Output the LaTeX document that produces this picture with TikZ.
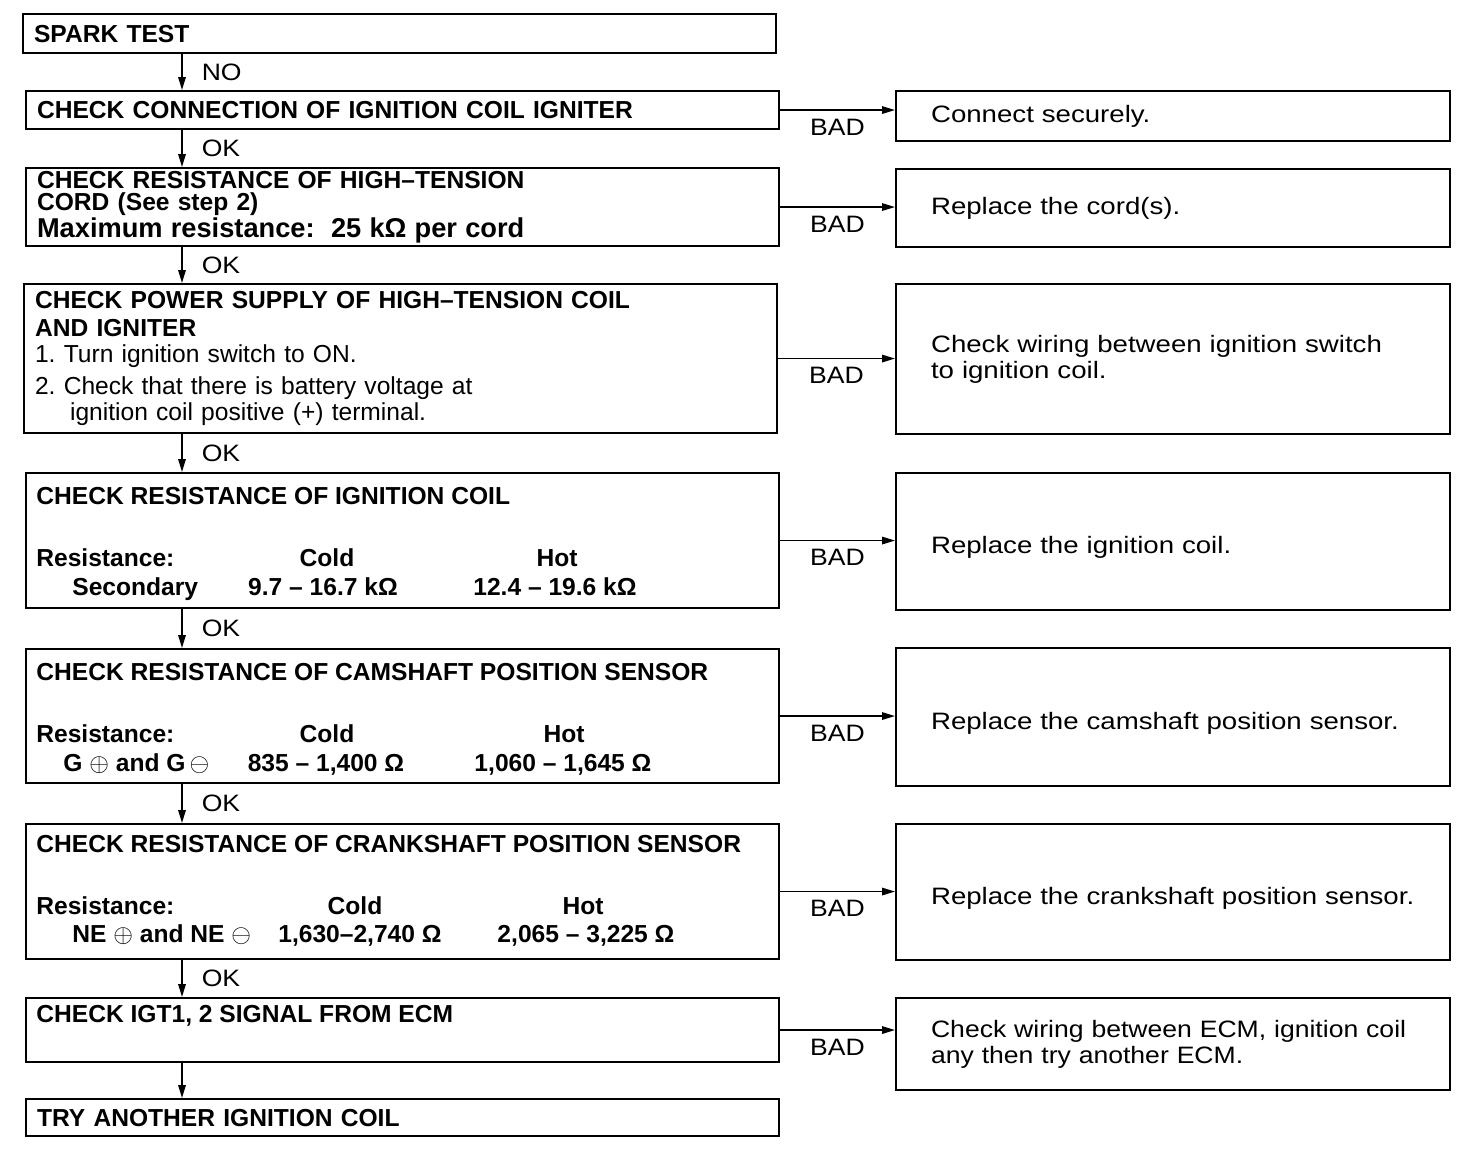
\documentclass[tikz,border=0pt]{standalone}
\usepackage{fontspec}
\setmainfont{Liberation Sans}
\newfontfamily\widefont[FakeStretch=1.12]{Liberation Sans}
\newfontfamily\fixfont[FakeStretch=1.165]{Liberation Sans}
\frenchspacing
\newcommand{\bigsym}[1]{{\fontsize{15.5}{15}\selectfont$#1$}}
\usetikzlibrary{arrows.meta,positioning}

\begin{document}
\begin{tikzpicture}[x=0.02cm,y=-0.02cm]
\tikzset{
  stepbox/.style={draw,line width=1.2pt,anchor=north west,inner xsep=0.22cm,inner ysep=0pt,
    text width=14.62cm,align=left,font=\fontsize{14}{15}\selectfont\bfseries},
  fixbox/.style={draw,line width=1.2pt,anchor=north west,inner xsep=0.7cm,inner ysep=0pt,
    text width=9.68cm,align=left,font=\fontsize{13.5}{15}\selectfont\fixfont},
  lowtext/.style={text height=0.59cm},
  flow/.style={-{Triangle[length=2.6mm,width=1.5mm]},line width=0.9pt},
  lbl/.style={font=\fontsize{13.5}{15}\selectfont\widefont,inner sep=0pt},
  rowtxt/.style={font=\fontsize{14}{15}\selectfont\bfseries,inner sep=0pt,anchor=base west},
  coltxt/.style={rowtxt,anchor=base}
}
\useasboundingbox (0,0) rectangle (1472,1150);

% left column
\node[stepbox,minimum height=0.78cm] (b1) at (22,13) {SPARK TEST};
\node[stepbox,minimum height=0.76cm] (b2) at (25,90) {CHECK CONNECTION OF IGNITION COIL IGNITER};
\node[stepbox,minimum height=1.56cm,font=\fontsize{14}{13}\selectfont\bfseries] (b3) at (25,167)
  {CHECK RESISTANCE OF HIGH--TENSION\\CORD (See step 2)\\{\fontsize{15.5}{15}\selectfont Maximum resistance:\ \ 25 kΩ per cord}};
\node[stepbox,minimum height=2.98cm] (b4) at (23,283)
  {CHECK POWER SUPPLY OF HIGH--TENSION COIL\\[1pt]AND IGNITER\\
   {\mdseries\fontsize{14}{15}\selectfont 1. Turn ignition switch to ON.\\[3pt]
   2. Check that there is battery voltage at\\
   \hspace*{0.7cm}ignition coil positive (+) terminal.}};
\node[stepbox,minimum height=2.70cm] (b5) at (25,472) {};
\node[stepbox,minimum height=2.68cm] (b6) at (25,648) {};
\node[stepbox,minimum height=2.70cm] (b7) at (25,823) {};
\node[stepbox,minimum height=1.28cm] (b8) at (25,997) {};
\node[stepbox,minimum height=0.74cm] (b9) at (25,1098) {TRY ANOTHER IGNITION COIL};

% box texts
\node[rowtxt] (t5) at (36,504) {CHECK RESISTANCE OF IGNITION COIL};
\node[rowtxt] (t5r) at (36,566) {Resistance:};
\node[coltxt] (t5c) at (327,566) {Cold};
\node[coltxt] (t5h) at (557,566) {Hot};
\node[rowtxt] (t5s) at (72,595) {Secondary};
\node[coltxt] (t5v1) at (323,595) {9.7 -- 16.7 kΩ};
\node[coltxt] (t5v2) at (555,595) {12.4 -- 19.6 kΩ};

\node[rowtxt] (t6) at (36,680) {CHECK RESISTANCE OF CAMSHAFT POSITION SENSOR};
\node[rowtxt] (t6r) at (36,742) {Resistance:};
\node[coltxt] (t6c) at (327,742) {Cold};
\node[coltxt] (t6h) at (564,742) {Hot};
\node[rowtxt] (t6s) at (63,771) {G \bigsym{\oplus} and G\,\bigsym{\ominus}};
\node[coltxt] (t6v1) at (326,771) {835 -- 1,400 Ω};
\node[coltxt] (t6v2) at (563,771) {1,060 -- 1,645 Ω};

\node[rowtxt] (t7) at (36,852) {CHECK RESISTANCE OF CRANKSHAFT POSITION SENSOR};
\node[rowtxt] (t7r) at (36,914) {Resistance:};
\node[coltxt] (t7c) at (355,914) {Cold};
\node[coltxt] (t7h) at (583,914) {Hot};
\node[rowtxt] (t7s) at (72,942) {NE \bigsym{\oplus} and NE \bigsym{\ominus}};
\node[coltxt] (t7v1) at (360,942) {1,630--2,740 Ω};
\node[coltxt] (t7v2) at (586,942) {2,065 -- 3,225 Ω};

\node[rowtxt] (t8) at (36,1022) {CHECK IGT1, 2 SIGNAL FROM ECM};

% right column
\node[fixbox,minimum height=1.00cm] (r1) at (895,90) {Connect securely.};
\node[fixbox,minimum height=1.56cm] (r2) at (895,168) {Replace the cord(s).};
\node[fixbox,minimum height=3.00cm] (r3) at (895,283) {Check wiring between ignition switch\\to ignition coil.};
\node[fixbox,lowtext,minimum height=2.74cm] (r4) at (895,472) {Replace the ignition coil.};
\node[fixbox,lowtext,minimum height=2.76cm] (r5) at (895,647) {Replace the camshaft position sensor.};
\node[fixbox,lowtext,minimum height=2.72cm] (r6) at (895,823) {Replace the crankshaft position sensor.};
\node[fixbox,minimum height=1.84cm,font=\fontsize{13.5}{15}\selectfont\widefont] (r7) at (895,997)
  {Check wiring between ECM, ignition coil\\any then try another ECM.};

% down arrows
\coordinate (axis) at (182,0);
\draw[flow] (b1.south -| axis) -- node[lbl,right=0.38cm] (l1) {NO} (b2.north -| axis);
\draw[flow] (b2.south -| axis) -- node[lbl,right=0.38cm] (l2) {OK} (b3.north -| axis);
\draw[flow] (b3.south -| axis) -- node[lbl,right=0.38cm] (l3) {OK} (b4.north -| axis);
\draw[flow] (b4.south -| axis) -- node[lbl,right=0.38cm] (l4) {OK} (b5.north -| axis);
\draw[flow] (b5.south -| axis) -- node[lbl,right=0.38cm] (l5) {OK} (b6.north -| axis);
\draw[flow] (b6.south -| axis) -- node[lbl,right=0.38cm] (l6) {OK} (b7.north -| axis);
\draw[flow] (b7.south -| axis) -- node[lbl,right=0.38cm] (l7) {OK} (b8.north -| axis);
\draw[flow] (b8.south -| axis) -- (b9.north -| axis);

% BAD arrows
\draw[flow] (b2.east) -- node[lbl,below=0.16cm] (x2) {BAD} (b2.east -| r1.west);
\draw[flow] (b3.east) -- node[lbl,below=0.16cm] (x3) {BAD} (b3.east -| r2.west);
\draw[flow] (b4.east) -- node[lbl,below=0.16cm] (x4) {BAD} (b4.east -| r3.west);
\draw[flow] (b5.east) -- node[lbl,below=0.16cm] (x5) {BAD} (b5.east -| r4.west);
\draw[flow] (b6.east) -- node[lbl,below=0.16cm] (x6) {BAD} (b6.east -| r5.west);
\draw[flow] (b7.east) -- node[lbl,below=0.16cm] (x7) {BAD} (b7.east -| r6.west);
\draw[flow] (b8.east) -- node[lbl,below=0.16cm] (x8) {BAD} (b8.east -| r7.west);
\end{tikzpicture}
\end{document}
